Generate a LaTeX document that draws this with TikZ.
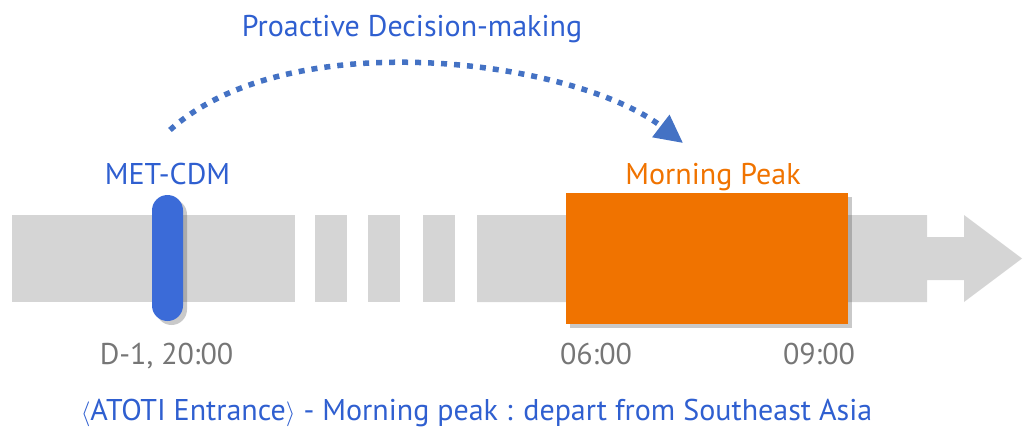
\documentclass[tikz,border=0pt]{standalone}
\usepackage{fontspec}
\setmainfont{PT Sans}
\usetikzlibrary{arrows.meta,shadows}

\definecolor{barGray}{HTML}{D5D5D5}
\definecolor{textBlue}{HTML}{2F5FD0}
\definecolor{pillBlue}{HTML}{3B6BD8}
\definecolor{dotBlue}{HTML}{4472C4}
\definecolor{peakOrange}{HTML}{F07300}
\definecolor{timeGray}{HTML}{767676}

\tikzset{
    lbl/.style={font=\fontsize{30}{35}\selectfont, anchor=base, inner sep=0pt},
    softshadow/.style={drop shadow={shadow xshift=4pt, shadow yshift=-4pt, opacity=0.3, fill=black!70}}
}

\begin{document}
\begin{tikzpicture}[x=1pt,y=-1pt]
        \useasboundingbox (0,0) rectangle (1024,428);

        % time line
        \fill [barGray] (12,215) rectangle (295,302);
        \foreach \xa/\xb in {315/347,368/400,423/455} {
            \fill [barGray] (\xa,215) rectangle (\xb,302);
        }
        \fill [barGray] (477,215) -- (927,215) -- (927,237) -- (964,237) -- (964,215)
            -- (1022,258.5) -- (964,302) -- (964,280) -- (927,280) -- (927,302) -- (477,302) -- cycle;

        % marks on the line
        \node [fill=pillBlue, minimum width=31pt, minimum height=126pt, rounded corners=15.5pt,
            inner sep=0pt, softshadow] (metbar) at (167.5,258) {};
        \node [fill=peakOrange, minimum width=282pt, minimum height=131pt, inner sep=0pt,
            softshadow] (peak) at (707,258.5) {};

        % labels
        \node [lbl, text=textBlue] (title) at (412,37) {Proactive Decision-making};
        \node [lbl, text=textBlue] (metlbl) at (167.5,184) {MET-CDM};
        \node [lbl, text=peakOrange] (peaklbl) at (713,184) {Morning Peak};
        \node [lbl, text=timeGray] (tstart) at (166.5,364) {D-1, 20:00};
        \node [lbl, text=timeGray] (tsix) at (596,364) {06:00};
        \node [lbl, text=timeGray] (tnine) at (819,364) {09:00};
        \node [lbl, text=textBlue] (caption) at (476.5,420)
            {$\langle$ATOTI Entrance$\rangle$ - Morning peak : depart from Southeast Asia};

        % decision arc
        \coordinate (arcstart) at (170,130);
        \coordinate (arctip) at (683,143);
        \draw [dotBlue, line width=5.5pt, dash pattern=on 6pt off 7pt,
            -{Triangle[length=28pt,width=27pt]}]
            (arcstart) .. controls (290,22) and (575,60) .. (arctip);
\end{tikzpicture}
\end{document}
